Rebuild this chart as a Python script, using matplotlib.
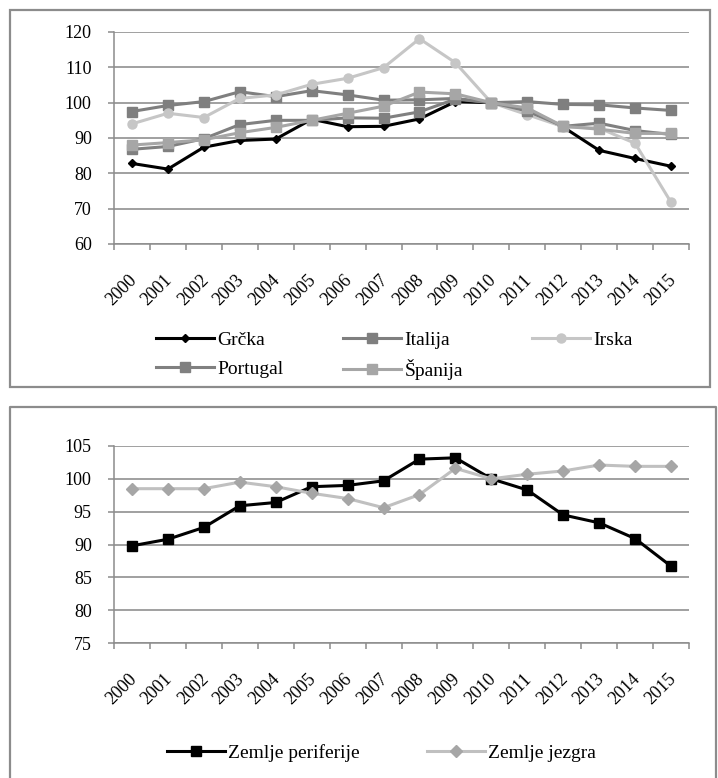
import numpy as np
import matplotlib.pyplot as plt
import matplotlib.transforms as mtransforms
from matplotlib.patches import Rectangle
from matplotlib.lines import Line2D

plt.rcParams['font.family'] = 'serif'
plt.rcParams['font.serif'] = ['Liberation Serif', 'DejaVu Serif']

# data
years = [str(y) for y in range(2000, 2016)]

grcka = [82.8, 81.2, 87.4, 89.3, 89.7, 95.3, 93.2, 93.3, 95.4, 100.3, 100.0, 97.8, 93.1, 86.5, 84.2, 82.0]
italija = [97.5, 99.2, 100.3, 103.1, 101.7, 103.4, 102.2, 100.7, 100.8, 101.2, 100.0, 100.3, 99.5, 99.4, 98.5, 97.8]
irska = [94.0, 97.0, 95.8, 101.2, 102.2, 105.2, 106.9, 109.9, 118.1, 111.3, 100.0, 96.6, 93.2, 92.8, 88.5, 71.8]
portugal = [86.8, 87.6, 89.8, 93.8, 95.0, 95.0, 95.7, 95.6, 97.4, 101.0, 100.0, 97.7, 93.3, 94.2, 92.1, 91.0]
spanija = [88.0, 88.7, 89.5, 91.5, 93.0, 95.0, 97.0, 99.0, 103.0, 102.5, 100.0, 98.5, 93.3, 92.5, 91.3, 91.3]

periferija = [89.8, 90.8, 92.6, 95.9, 96.4, 98.8, 99.0, 99.7, 103.0, 103.2, 100.0, 98.3, 94.5, 93.3, 90.9, 86.7]
jezgra = [98.5, 98.5, 98.5, 99.5, 98.8, 97.8, 97.0, 95.6, 97.6, 101.6, 100.0, 100.7, 101.2, 102.1, 101.9, 101.9]

W, H = 718, 778
fig = plt.figure(figsize=(W / 100, H / 100), dpi=100)

def px_axes(left, top, right, bottom):
    return fig.add_axes([left / W, 1 - bottom / H, (right - left) / W, (bottom - top) / H])

def style_axes(ax, ymin, ymax, step):
    x = np.arange(len(years))
    ax.set_xlim(-0.5, len(years) - 0.5)
    ax.set_ylim(ymin, ymax)
    ax.set_yticks(np.arange(ymin, ymax + 0.1, step))
    ax.yaxis.grid(True, color='#868686', lw=1.1)
    ax.set_axisbelow(True)
    for s in ['top', 'right']:
        ax.spines[s].set_visible(False)
    for s in ['left', 'bottom']:
        ax.spines[s].set_color('#8c8c8c')
        ax.spines[s].set_linewidth(1.1)
    ax.set_xticks(x)
    ax.set_xticklabels(years, rotation=45, ha='right', va='top', rotation_mode='anchor')
    ax.set_xticks(np.arange(-0.5, len(years)), minor=True)
    ax.tick_params(axis='x', which='major', length=0, pad=20, labelsize=13)
    ax.tick_params(axis='x', which='minor', length=4, color='#8c8c8c', width=1.1)
    ax.tick_params(axis='y', length=4, color='#8c8c8c', width=1.1, pad=12, labelsize=13)
    off = mtransforms.ScaledTranslation(-4 / 100, 0, fig.dpi_scale_trans)
    for lab in ax.get_xticklabels():
        lab.set_transform(lab.get_transform() + off)
    return x

def legend_entry(handle, label, xpx, ypx):
    fig.legend(handles=[handle], labels=[label], loc='center left',
               bbox_to_anchor=(xpx / W, 1 - ypx / H), frameon=False,
               handlelength=3.0, handletextpad=0.15, borderaxespad=0,
               borderpad=0, fontsize=14)

# frames around both panels
fig.patches.append(Rectangle((10 / W, 1 - 387 / H), 700 / W, 377 / H, transform=fig.transFigure,
                             fill=False, edgecolor='#8c8c8c', lw=1.6))
fig.lines.append(Line2D([10 / W, 10 / W, 716 / W, 716 / W], [0, 1 - 407 / H, 1 - 407 / H, 0],
                        transform=fig.transFigure, color='#8c8c8c', lw=1.6))

# top panel
ax1 = px_axes(114, 32, 689, 244)
x = style_axes(ax1, 60, 120, 10)
series = [
    ('Grčka', grcka, 'black', 'D', 4.5),
    ('Italija', italija, '#7f7f7f', 's', 6.5),
    ('Irska', irska, '#c6c6c6', 'o', 6.5),
    ('Portugal', portugal, '#808080', 's', 6.5),
    ('Španija', spanija, '#a6a6a6', 's', 6.5),
]
handles = []
for name, vals, col, mk, ms in series:
    h, = ax1.plot(x, vals, color=col, marker=mk, ms=ms, lw=2.2, label=name)
    handles.append(h)

leg_pos = [(156, 340), (343, 340), (532, 340), (156, 369), (343, 369)]
for h, (xp, yp) in zip(handles, leg_pos):
    legend_entry(h, h.get_label(), xp, yp)

# bottom panel
ax2 = px_axes(114, 446, 689, 643)
x = style_axes(ax2, 75, 105, 5)
h1, = ax2.plot(x, periferija, color='black', marker='s', ms=6.5, lw=2.2, label='Zemlje periferije')
h2, = ax2.plot(x, jezgra, color='#c0c0c0', marker='D', ms=6.5, mfc='#a6a6a6', mec='#a6a6a6',
               lw=2.2, label='Zemlje jezgra')
legend_entry(h1, h1.get_label(), 167, 753)
legend_entry(h2, h2.get_label(), 427, 753)

fig.savefig('out.png', dpi=100)
